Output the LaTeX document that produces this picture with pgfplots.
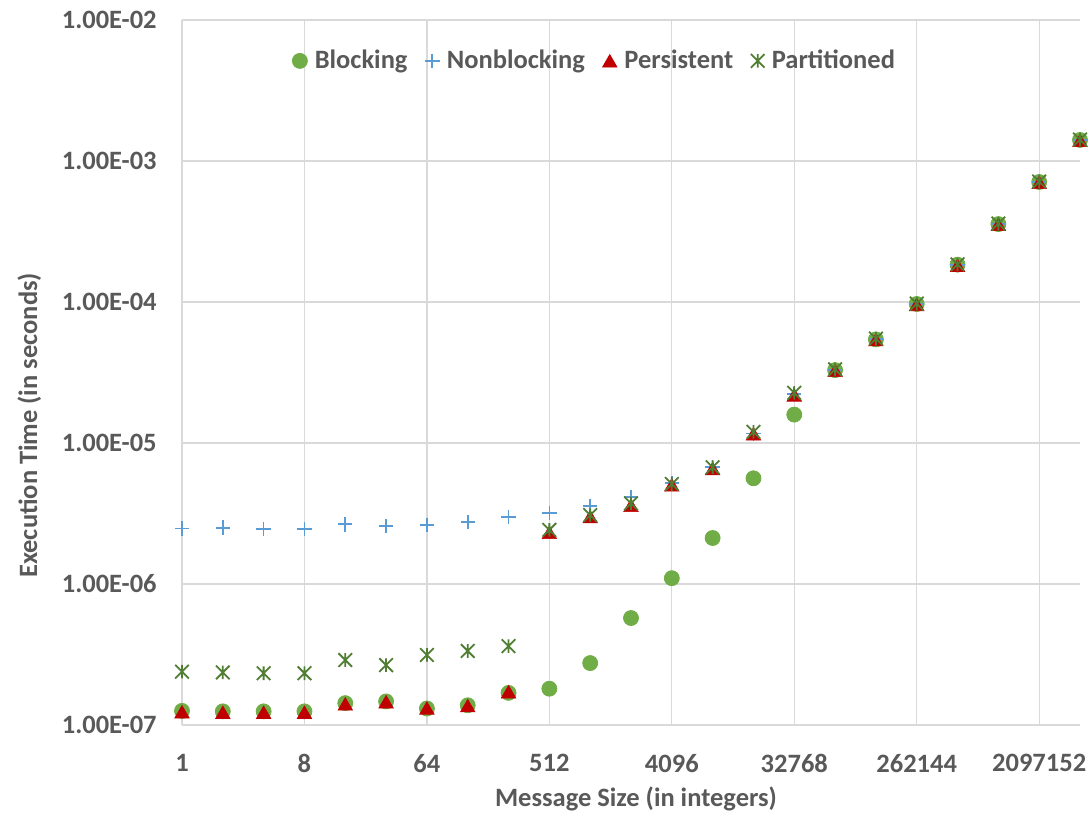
\documentclass[border=0pt]{standalone}
\usepackage{pgfplots}
\pgfplotsset{compat=1.18}
\usepackage{fontspec}
\setmainfont{Carlito}
\definecolor{cblock}{HTML}{70AD47}
\definecolor{cnonb}{HTML}{5B9BD5}
\definecolor{cpers}{HTML}{C00000}
\definecolor{cpart}{HTML}{507E32}
\definecolor{cgrid}{HTML}{D9D9D9}
\definecolor{ctext}{HTML}{595959}
\pgfdeclareplotmark{xstar}{%
  \pgfpathmoveto{\pgfqpoint{-\pgfplotmarksize}{-\pgfplotmarksize}}%
  \pgfpathlineto{\pgfqpoint{\pgfplotmarksize}{\pgfplotmarksize}}%
  \pgfpathmoveto{\pgfqpoint{-\pgfplotmarksize}{\pgfplotmarksize}}%
  \pgfpathlineto{\pgfqpoint{\pgfplotmarksize}{-\pgfplotmarksize}}%
  \pgfpathmoveto{\pgfqpoint{0pt}{-\pgfplotmarksize}}%
  \pgfpathlineto{\pgfqpoint{0pt}{\pgfplotmarksize}}%
  \pgfusepathqstroke}
\newcommand{\lbl}{\bfseries\fontsize{13.25}{15}\selectfont}

\pgfplotstableread{
x y
0 1.26e-7
1 1.25e-7
2 1.25e-7
3 1.25e-7
4 1.43e-7
5 1.47e-7
6 1.31e-7
7 1.38e-7
8 1.69e-7
9 1.81e-7
10 2.75e-7
11 5.74e-7
12 1.10e-6
13 2.12e-6
14 5.62e-6
15 1.59e-5
16 3.29e-5
17 5.43e-5
18 9.68e-5
19 1.84e-4
20 3.57e-4
21 7.10e-4
22 1.41e-3
}\blocking

\pgfplotstableread{
x y
0 2.48e-6
1 2.51e-6
2 2.45e-6
3 2.45e-6
4 2.65e-6
5 2.58e-6
6 2.63e-6
7 2.74e-6
8 3.00e-6
9 3.20e-6
10 3.59e-6
11 4.16e-6
12 5.18e-6
13 6.79e-6
14 1.17e-5
15 2.23e-5
16 3.30e-5
17 5.45e-5
18 9.70e-5
19 1.84e-4
20 3.58e-4
21 7.10e-4
22 1.41e-3
}\nonblocking

\pgfplotstableread{
x y
0 1.24e-7
1 1.23e-7
2 1.23e-7
3 1.23e-7
4 1.41e-7
5 1.46e-7
6 1.32e-7
7 1.37e-7
8 1.72e-7
9 2.32e-6
10 3.00e-6
11 3.61e-6
12 5.04e-6
13 6.58e-6
14 1.16e-5
15 2.19e-5
16 3.27e-5
17 5.40e-5
18 9.60e-5
19 1.82e-4
20 3.55e-4
21 7.05e-4
22 1.40e-3
}\persistent

\pgfplotstableread{
x y
0 2.39e-7
1 2.36e-7
2 2.33e-7
3 2.33e-7
4 2.89e-7
5 2.66e-7
6 3.14e-7
7 3.35e-7
8 3.63e-7
9 2.42e-6
10 3.08e-6
11 3.73e-6
12 5.12e-6
13 6.73e-6
14 1.20e-5
15 2.27e-5
16 3.33e-5
17 5.50e-5
18 9.75e-5
19 1.85e-4
20 3.60e-4
21 7.15e-4
22 1.42e-3
}\partitioned

\begin{document}
\begin{tikzpicture}
\begin{axis}[
  scale only axis,
  width=449pt, height=352.5pt,
  ymode=log,
  xmin=0, xmax=22,
  ymin=1e-7, ymax=1e-2,
  clip=false,
  axis x line*=bottom,
  axis y line*=left,
  axis line style={cgrid, line width=0.6pt},
  grid=major,
  major grid style={cgrid, line width=0.6pt},
  major tick length=0pt,
  minor tick length=0pt,
  yminorticks=false,
  xminorticks=false,
  xtick={0,3,6,9,12,15,18,21},
  xticklabels={1,8,64,512,4096,32768,262144,2097152},
  ytick={1e-7,1e-6,1e-5,1e-4,1e-3,1e-2},
  yticklabels={1.00E-07,1.00E-06,1.00E-05,1.00E-04,1.00E-03,1.00E-02},
  ticklabel style={font=\lbl, text=ctext, inner sep=0pt},
  xticklabel style={anchor=north, yshift=-14.5pt},
  yticklabel style={anchor=east, xshift=-12.5pt},
  legend columns=4,
  legend style={draw=none, fill=none, inner sep=0pt,
    at={(0.1225,0.942)}, anchor=west,
    font=\lbl, text=ctext,
    nodes={inner sep=0pt, text=ctext},
    /tikz/every odd column/.append style={column sep=3.7pt},
    /tikz/every even column/.append style={column sep=8.8pt}},
  legend image code/.code={\draw[mark repeat=2,mark phase=2,#1] plot coordinates {(0pt,0pt) (4pt,0pt) (8pt,0pt)};},
]
\addplot[only marks, mark=*, mark size=3.75pt, color=cblock, mark options={fill=cblock, draw=cblock}] table[x=x,y=y] {\blocking};
\addlegendentry{Blocking}
\addplot[only marks, mark=+, mark size=3.6pt, color=cnonb, mark options={line width=0.85pt}] table[x=x,y=y] {\nonblocking};
\addlegendentry{Nonblocking}
\addplot[only marks, mark=triangle*, mark size=4.2pt, color=cpers, mark options={fill=cpers, draw=cpers, line width=0.3pt, yshift=-1pt}] table[x=x,y=y] {\persistent};
\addlegendentry{Persistent}
\addplot[only marks, mark=xstar, mark size=3.4pt, color=cpart, mark options={line width=0.9pt}] table[x=x,y=y] {\partitioned};
\addlegendentry{Partitioned}
\coordinate (BL) at (rel axis cs:0,0);
\coordinate (TR) at (rel axis cs:1,1);
\path (rel axis cs:0.5,0) ++(2.5pt,-30.5pt) node[anchor=north, inner sep=0pt, font=\lbl, text=ctext] {Message Size (in integers)};
\path (rel axis cs:0,0.425) ++(-82.5pt,0pt) node[rotate=90, anchor=north, inner sep=0pt, font=\lbl, text=ctext] {Execution Time (in seconds)};
\end{axis}
\pgfresetboundingbox
\path[use as bounding box] ([shift={(-91pt,-44pt)}]BL) rectangle ([shift={(6pt,10pt)}]TR);
\end{tikzpicture}
\end{document}
